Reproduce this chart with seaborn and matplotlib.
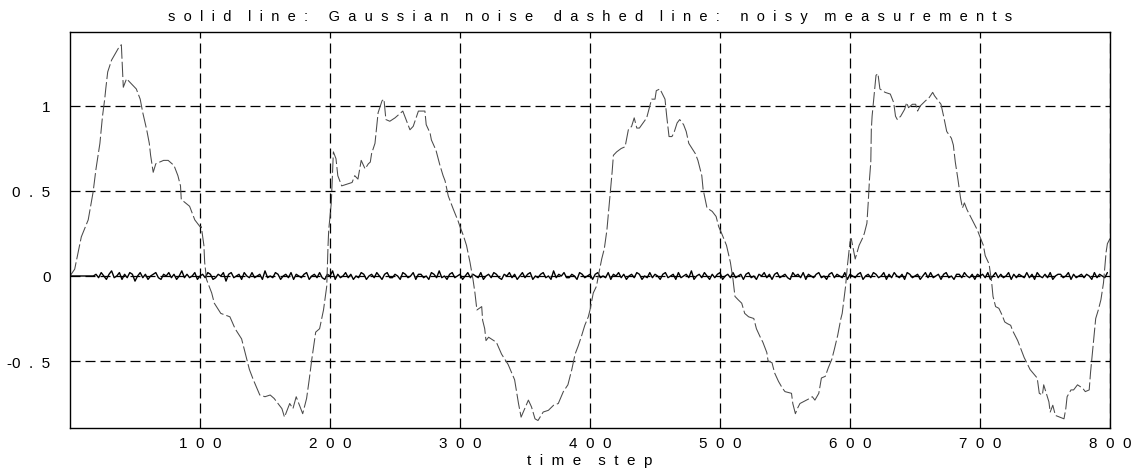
import numpy as np
import pandas as pd
import matplotlib
matplotlib.use("Agg")
import matplotlib.pyplot as plt
import seaborn as sns

# ---- data -------------------------------------------------------------
# noisy measurements (time step, value)
meas_t = [0, 3.6, 8.7, 14, 17.7, 20, 23, 25, 26.7, 27.5, 29, 32, 33.5, 38, 39.5, 41, 43.5, 46, 51, 54,
          56, 59, 61, 62, 64, 66, 72, 75.5, 80, 83, 85, 85.6, 92, 96, 100, 101, 103, 103.6, 105, 109,
          111, 116, 123, 127, 132, 136, 138, 141, 146, 150, 154, 157, 163, 165, 169, 171.5, 174, 176.5, 179, 182,
          184, 186, 189, 192, 195, 197.5, 198.5, 199, 201, 202.6, 204.6, 206, 209, 213, 217, 219, 221.5, 224, 227, 229.5,
          231, 232, 234.6, 237, 240, 241.5, 243, 246, 250, 256, 258.5, 261.5, 264, 268, 273, 274, 277, 278, 281.5, 284.6,
          287, 288.5, 291, 295, 298.7, 300, 302.5, 305, 307.7, 310, 311.5, 313, 316.7, 317.4, 319, 320, 322, 328, 332, 337,
          342, 345, 347, 352.6, 355, 357.7, 360, 364, 368, 372, 375.6, 379.5, 383, 386, 388.5, 391, 393.6, 396, 398.7, 400,
          402.5, 405, 406.4, 409, 411, 413, 415.6, 417, 418, 420.5, 424, 427, 429.5, 432, 434, 436, 438, 443.6, 446, 447.4,
          450, 451, 453.8, 457.7, 459, 460.8, 463, 464.5, 467, 469, 472, 474, 476, 481, 483, 486, 487, 490, 494, 497,
          499, 501.3, 505, 508, 510, 511.5, 514, 516.7, 519, 522, 526, 528, 531, 533, 536, 537, 540, 542, 545, 548,
          550, 555, 556, 558, 559.5, 561.5, 569, 571, 573, 576, 578, 581, 583.3, 586, 588, 590.5, 593, 594, 595.6, 596.6,
          598, 600, 601, 604, 607, 609.5, 611, 613, 614, 615, 616, 616.4, 617, 618.5, 620, 621.5, 623, 627, 631, 633.6,
          635, 636.4, 639, 642, 643.6, 645, 648, 650.5, 652, 654, 658, 661, 663.6, 665, 667, 670, 672, 674.4, 678, 679.5,
          681, 683, 685, 686.5, 688, 690, 694, 698, 700.5, 702.6, 704, 707, 709, 710, 712, 714.5, 717, 719, 721, 723.6,
          725, 729, 731, 734, 736, 738.5, 744, 745.6, 748, 749, 753, 754, 756, 758, 764.6, 766, 767, 770, 772, 775,
          779, 781, 784, 785, 787, 789, 791, 793, 795, 797, 798, 800]
meas_v = [0.00, 0.04, 0.23, 0.33, 0.49, 0.63, 0.78, 0.94, 1.04, 1.10, 1.20, 1.27, 1.29, 1.35, 1.36, 1.11, 1.16, 1.14, 1.10, 1.04,
          0.96, 0.86, 0.78, 0.71, 0.61, 0.66, 0.68, 0.68, 0.65, 0.59, 0.53, 0.45, 0.41, 0.33, 0.29, 0.29, 0.18, 0.08, -0.02, -0.10,
          -0.16, -0.22, -0.24, -0.31, -0.37, -0.49, -0.55, -0.61, -0.70, -0.71, -0.70, -0.72, -0.78, -0.83, -0.75, -0.78, -0.71, -0.76, -0.81, -0.72,
          -0.61, -0.49, -0.33, -0.31, -0.20, -0.06, 0.18, 0.27, 0.43, 0.73, 0.69, 0.59, 0.53, 0.54, 0.55, 0.59, 0.57, 0.68, 0.63, 0.66,
          0.67, 0.72, 0.78, 0.96, 1.03, 1.04, 0.92, 0.91, 0.93, 0.97, 0.92, 0.86, 0.88, 0.97, 0.97, 0.89, 0.84, 0.80, 0.74, 0.65,
          0.59, 0.56, 0.47, 0.39, 0.32, 0.29, 0.24, 0.18, 0.08, -0.02, -0.10, -0.20, -0.18, -0.26, -0.31, -0.38, -0.36, -0.39, -0.46, -0.52,
          -0.61, -0.75, -0.83, -0.73, -0.77, -0.84, -0.85, -0.80, -0.79, -0.76, -0.75, -0.68, -0.64, -0.55, -0.46, -0.41, -0.35, -0.29, -0.24, -0.20,
          -0.10, -0.06, 0.00, 0.10, 0.16, 0.27, 0.49, 0.61, 0.71, 0.73, 0.75, 0.76, 0.86, 0.88, 0.93, 0.87, 0.87, 0.93, 1.00, 1.04,
          1.04, 1.09, 1.10, 1.04, 0.94, 0.82, 0.82, 0.84, 0.90, 0.92, 0.89, 0.85, 0.78, 0.72, 0.68, 0.59, 0.51, 0.40, 0.38, 0.35,
          0.29, 0.25, 0.18, 0.08, -0.02, -0.12, -0.14, -0.16, -0.22, -0.24, -0.25, -0.31, -0.36, -0.39, -0.45, -0.50, -0.51, -0.57, -0.62, -0.66,
          -0.68, -0.69, -0.75, -0.81, -0.78, -0.75, -0.72, -0.71, -0.73, -0.69, -0.60, -0.59, -0.54, -0.49, -0.43, -0.35, -0.25, -0.22, -0.12, -0.06,
          0.06, 0.20, 0.22, 0.10, 0.18, 0.22, 0.25, 0.31, 0.43, 0.57, 0.67, 0.86, 0.94, 1.06, 1.18, 1.19, 1.10, 1.08, 1.07, 1.02,
          0.94, 0.92, 0.94, 0.98, 1.02, 0.99, 1.01, 1.01, 0.97, 1.00, 1.03, 1.05, 1.08, 1.06, 1.04, 1.01, 0.94, 0.85, 0.81, 0.77,
          0.67, 0.57, 0.46, 0.40, 0.43, 0.39, 0.33, 0.27, 0.22, 0.18, 0.12, 0.07, -0.04, -0.12, -0.18, -0.19, -0.23, -0.27, -0.28, -0.29,
          -0.32, -0.38, -0.42, -0.48, -0.51, -0.55, -0.60, -0.69, -0.70, -0.64, -0.74, -0.80, -0.76, -0.82, -0.84, -0.78, -0.71, -0.67, -0.67, -0.64,
          -0.66, -0.68, -0.67, -0.57, -0.41, -0.25, -0.20, -0.14, -0.04, 0.14, 0.19, 0.22]

# Gaussian noise, sampled every 2 time steps (hundredths); silent for the first 20 steps
noise_step = 2
noise_cents = [0] * 10 + [
    1, -1, 2, 0, -2, 1, 3, -1, 0, 2, -2, 1, -1, 2, 1, -3, 0, 2, -1, 1,
    -2, 0, 1, 2, -1, -2, 1, 0, 2, -1, 1, -2, 0, 3, -1, 1, -1, 0, 2, -2,
    0, 1, -1, 2, 1, -2, -1, 1, 0, 2, -3, 1, 2, -1, 0, 1, -2, 2, 0, -1,
    2, -1, 0, 1, -2, 3, -1, 0, -1, 2, 1, -2, 0, 1, -1, 2, -2, 1, 0, -1,
    1, 2, -2, 0, 1, -1, 2, -1, -2, 1, 0, 3, -2, 1, -1, 0, 2, -1, 1, -2,
    0, -1, 2, 1, -2, 0, 1, -1, 2, 0, -2, 1, 2, -1, -1, 1, 0, -2, 2, 1,
    -1, 0, 2, -2, 1, 1, -1, 0, -2, 2, 1, -1, 3, -1, 0, -2, 1, 2, -1, 0,
    1, -2, 0, 2, -1, 1, 0, -1, 2, -2, 0, 1, -1, 2, 1, -1, -2, 1, 0, 2,
    -1, 1, -2, 0, 2, -1, 1, 2, -2, 0, -1, 1, 2, -1, 0, -2, 3, -1, 1, 0,
    2, -1, -1, 1, 0, -2, 2, 1, -1, 0, 1, -2, 1, 2, -1, 0, -1, 2, -2, 1,
    0, 2, -1, 1, -2, 0, 1, -1, 2, 1, -2, 0, -1, 2, -1, 1, 0, -2, 1, 2,
    -1, 0, 1, -2, 2, -1, 0, 1, -1, 3, -2, 0, 1, -1, 2, 0, -2, 1, -1, 1,
    2, -2, 0, 1, -1, 2, -1, 0, 1, -2, 1, 2, -1, 0, -2, 1, 0, 2, -1, 1,
    -2, 1, 2, -1, 0, 1, -1, -2, 2, 0, 1, -1, 2, -2, 1, 0, -1, 1, 2, -1,
    0, -2, 1, 2, -1, 1, 0, -1, 2, -2, 1, 0, -1, 1, 2, -2, 0, 1, -1, 2,
    1, -1, 0, 2, -2, 1, -1, 2, 0, -1, 1, -2, 2, 1, -1, 0, 1, -2, 0, 2,
    -1, 2, -1, 0, 1, -2, 1, 2, -1, 0, -2, 1, 1, -1, 2, 0, -1, 1, -2, 1,
    0, 1, -1, 2, -2, 0, 2, -1, 1, -1, 0, 2, -2, 1, -1, 1, 0, -1, 2, -1,
    1, -2, 2, 0, -1, 1, -1, 2, -2, 0, 1, 1, -1, 0, 2, -2, 1, -1, 0, 1,
    -1, 1, 0, -2, 2, -1, 1, 0, -1, 2]

x_ticks = [100, 200, 300, 400, 500, 600, 700, 800]
y_ticks = [-0.5, 0, 0.5, 1]
title_words = ["solid line:", "Gaussian noise", "dashed line:", "noisy measurements"]
x_label = "time step"


def spaced(text, gap=2, word_gap=4):
    """Letter-spaced rendering of a string."""
    words = text.split(" ")
    return (" " * word_gap).join((" " * gap).join(w) for w in words)


# ---- figure -------------------------------------------------------------
sns.set_theme(style="white")
plt.rcParams["font.family"] = ["Liberation Sans", "DejaVu Sans"]
plt.rcParams["lines.scale_dashes"] = False

fig = plt.figure(figsize=(11.34, 4.77), dpi=100)
ax = fig.add_axes([70 / 1134, 1 - 429 / 477, 1040 / 1134, 396 / 477])

noise_df = pd.DataFrame({
    "t": np.arange(len(noise_cents)) * noise_step,
    "v": np.array(noise_cents) / 100.0,
})
meas_df = pd.DataFrame({"t": meas_t, "v": meas_v})

sns.lineplot(data=noise_df, x="t", y="v", ax=ax, color="black", linewidth=1.0,
             estimator=None, sort=False)
sns.lineplot(data=meas_df, x="t", y="v", ax=ax, color="#4a4a4a", linewidth=0.75,
             estimator=None, sort=False)
ax.lines[-1].set_dashes((11, 2.2))

ax.set_xlim(0, 800)
ax.set_ylim(-0.894, 1.435)

ax.set_xticks(x_ticks)
ax.set_xticklabels([spaced(str(v)) for v in x_ticks])
ax.set_yticks(y_ticks)
ylabels = []
for v in y_ticks:
    s = f"{v:g}"
    if s.startswith("-"):
        ylabels.append("-" + spaced(s[1:]))
    else:
        ylabels.append(spaced(s))
ax.set_yticklabels(ylabels)
ax.tick_params(axis="both", length=0, labelsize=11, colors="black")
ax.tick_params(axis="x", pad=6)
ax.tick_params(axis="y", pad=14)

ax.grid(True, color="black", linewidth=0.9, linestyle=(0, (7.2, 3.6)))
for sp in ax.spines.values():
    sp.set_visible(True)
    sp.set_color("black")
    sp.set_linewidth(1.0)

ax.set_xlabel(spaced(x_label), fontsize=11, labelpad=2, color="black")
ax.set_ylabel("")
ax.set_title((" " * 5).join(spaced(w) for w in title_words),
             fontsize=10.5, pad=9, color="black")

fig.savefig("out.png", dpi=100)
